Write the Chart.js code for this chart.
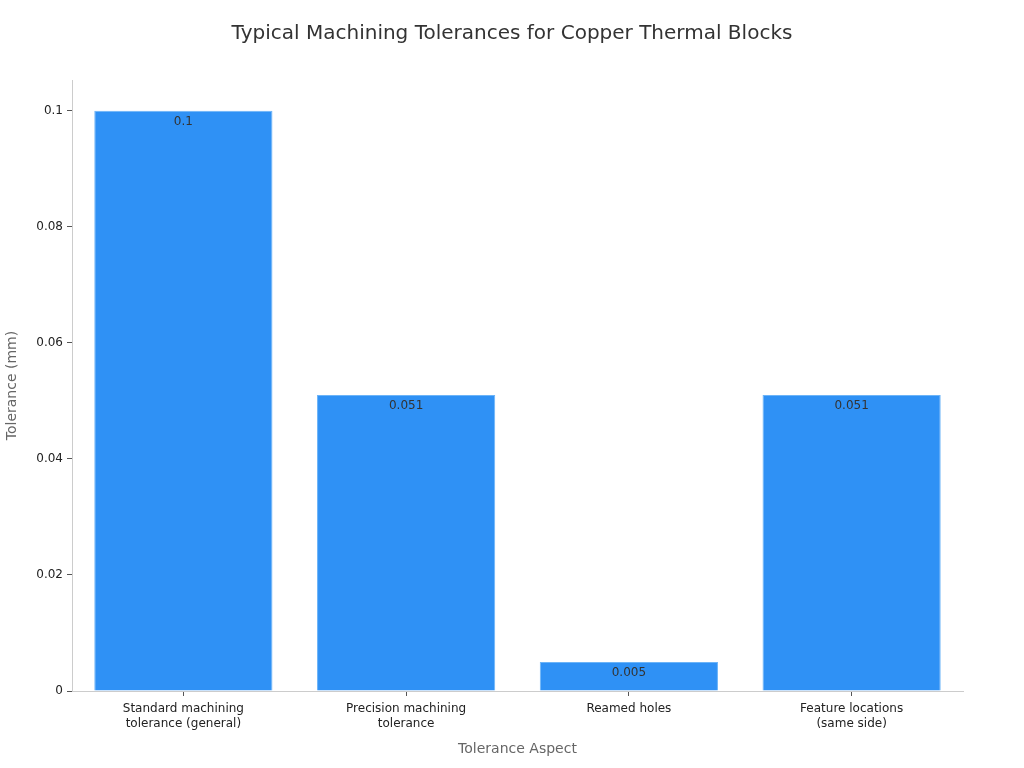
<!DOCTYPE html>
<html>
<head>
<meta charset="utf-8">
<script src="https://cdn.jsdelivr.net/npm/chart.js@4"></script>
<style>
  html, body { margin: 0; padding: 0; background: #fff; }
  #wrap { width: 1024px; height: 768px; }
</style>
</head>
<body>
<div id="wrap"><canvas id="myChart" width="1024" height="768"></canvas></div>
<script>
const categories = [
  ["Standard machining", "tolerance (general)"],
  ["Precision machining", "tolerance"],
  "Reamed holes",
  ["Feature locations", "(same side)"]
];
const tolerances = [0.1, 0.051, 0.005, 0.051];
const yTicks = [0, 0.02, 0.04, 0.06, 0.08, 0.1];

Chart.defaults.font.family = "'DejaVu Sans', sans-serif";

// value labels drawn just inside the top of each bar
const barLabels = {
  id: "barLabels",
  afterDatasetsDraw(chart) {
    const ctx = chart.ctx;
    const meta = chart.getDatasetMeta(0);
    ctx.save();
    ctx.font = "12px 'DejaVu Sans', sans-serif";
    ctx.fillStyle = "#333";
    ctx.textAlign = "center";
    ctx.textBaseline = "middle";
    meta.data.forEach((bar, i) => {
      ctx.fillText(String(tolerances[i]), bar.x, bar.y + 11);
    });
    ctx.restore();
  }
};

const ctx = document.getElementById("myChart").getContext("2d");
const chart = new Chart(ctx, {
  type: "bar",
  data: {
    labels: categories,
    datasets: [
      {
        data: tolerances,
        backgroundColor: "#2f91f5",
        borderColor: "#6cb4f8",
        borderWidth: 1,
        categoryPercentage: 0.8,
        barPercentage: 1,
      },
    ],
  },
  options: {
    responsive: false,
    animation: false,
    layout: { padding: 0 },
    plugins: {
      legend: { display: false },
      tooltip: { enabled: false },
      title: {
        display: true,
        text: "Typical Machining Tolerances for Copper Thermal Blocks",
        color: "#333",
        font: { size: 20, weight: "normal" },
        padding: { top: 22, bottom: 34 },
      },
    },
    scales: {
      x: {
        grid: { display: true, offset: false, drawOnChartArea: false, drawTicks: true, tickLength: 5, color: "#555" },
        border: { color: "#ccc" },
        ticks: { color: "#222", font: { size: 12 }, padding: 6, maxRotation: 0 },
        title: {
          display: true,
          text: "Tolerance Aspect",
          color: "#666",
          font: { size: 14 },
          padding: { top: 0, bottom: 10 },
        },
        afterFit(axis) { axis.height = 77; },
      },
      y: {
        min: 0,
        max: 0.1053,
        grid: { display: true, drawOnChartArea: false, drawTicks: true, tickLength: 5, color: "#555" },
        border: { color: "#ccc" },
        ticks: {
          color: "#222",
          font: { size: 12 },
          padding: 4,
          callback: (v) => String(+v.toFixed(3)),
        },
        afterBuildTicks(axis) {
          axis.ticks = yTicks.map((v) => ({ value: v }));
        },
        title: {
          display: true,
          text: "Tolerance (mm)",
          color: "#666",
          font: { size: 14 },
          padding: { top: 4, bottom: 0 },
        },
        afterFit(axis) { axis.width = 72; },
      },
      // empty right-hand axis, only to keep the right margin
      yRight: {
        position: "right",
        min: 0,
        max: 0.1053,
        grid: { display: false },
        border: { display: false },
        ticks: { display: false },
        afterFit(axis) { axis.width = 61; },
      },
    },
  },
  plugins: [barLabels],
});
</script>
</body>
</html>
